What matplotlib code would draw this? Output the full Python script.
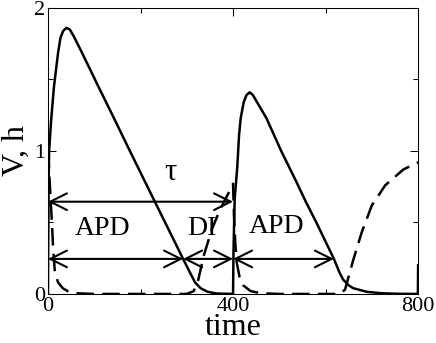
import matplotlib
matplotlib.use("Agg")
import matplotlib.pyplot as plt
from matplotlib.ticker import MultipleLocator

plt.rcParams['font.family'] = ['Liberation Serif', 'DejaVu Serif']

# membrane potential V (solid)
t_v = [0, 0.5, 1.5, 2.5, 7, 13, 22, 27, 33, 40, 47, 56, 73, 109, 144, 177,
       231, 270, 292, 310, 318, 330, 345, 365, 399, 400, 401, 403.6, 409, 413,
       416.6, 423, 429, 436, 443, 452, 472, 504, 536, 558, 580, 618, 630, 638,
       650, 660, 689, 720, 760, 799.5, 800]
v = [0, 0.3, 0.8, 1.0, 1.22, 1.45, 1.69, 1.79, 1.84, 1.86, 1.85, 1.8, 1.69,
     1.45, 1.22, 1.0, 0.645, 0.39, 0.245, 0.13, 0.08, 0.04, 0.015, 0.003, 0,
     0, 0.3, 0.67, 0.88, 1.11, 1.23, 1.34, 1.39, 1.41, 1.39, 1.34, 1.23, 1.0,
     0.79, 0.64, 0.5, 0.245, 0.15, 0.1, 0.06, 0.04, 0.015, 0.005, 0.001, 0,
     0.2]

# gate variable h (dashed)
t_h = [0, 2, 5, 9, 11, 15, 22, 32, 45, 60, 100, 300, 315, 325, 336, 354, 372,
       394, 400, 402, 405, 408, 414, 422, 438, 460, 500, 630, 642, 660, 678,
       700, 729, 768, 800]
h = [1.0, 0.9, 0.7, 0.47, 0.33, 0.15, 0.08, 0.04, 0.015, 0.005, 0, 0, 0.02,
     0.1, 0.26, 0.45, 0.59, 0.73, 0.77, 0.55, 0.35, 0.22, 0.12, 0.06, 0.02,
     0.005, 0, 0, 0.03, 0.24, 0.43, 0.62, 0.76, 0.87, 0.92]

# arrows: (start, end, level)
arrows = [(0, 400, 0.645), (0, 292, 0.245), (292, 400, 0.245), (400, 618, 0.245)]
labels = [("APD", 117, 0.46), ("DI", 333, 0.46), ("APD", 493, 0.47)]

fig = plt.figure(figsize=(4.36, 3.43), dpi=100)
ax = fig.add_axes([0.110, 0.143, 0.849, 0.834])

ax.plot(t_v, v, color='black', lw=1.8, solid_joinstyle='round')
ax.plot(t_h, h, color='black', lw=1.8, dashes=(7, 3.3))

for a, b, y in arrows:
    ax.annotate('', xy=(b, y), xytext=(a, y),
                arrowprops=dict(arrowstyle='<->', mutation_scale=30, lw=1.5,
                                color='black', shrinkA=0, shrinkB=0))

for s, x, y in labels:
    ax.text(x, y, s, fontsize=20, ha='center', va='center')
ax.text(264, 0.85, "τ", fontsize=22, ha='center', va='center')

ax.set_xlim(0, 800)
ax.set_ylim(0, 2)
ax.set_xticks([0, 400, 800])
ax.set_yticks([0, 1, 2])
ax.xaxis.set_minor_locator(MultipleLocator(200))
ax.yaxis.set_minor_locator(MultipleLocator(0.5))
ax.tick_params(which='both', direction='in', top=True, right=True,
               labelsize=16, width=0.75, pad=2)
ax.tick_params(which='major', length=6)
ax.tick_params(which='minor', length=3.5)
for sp in ax.spines.values():
    sp.set_linewidth(0.75)

ax.set_xlabel("time", fontsize=23, labelpad=-2)
ax.set_ylabel("V, h", fontsize=23, labelpad=2)

fig.savefig("out.png", dpi=100)
